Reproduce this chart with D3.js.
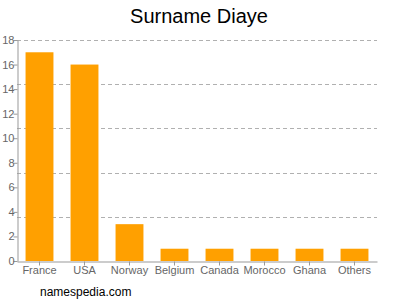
<!DOCTYPE html>
<html>
<head>
<meta charset="utf-8">
<script src="https://cdn.jsdelivr.net/npm/d3@7"></script>
<style>
  body { margin: 0; background: #fff; }
  text { font-family: "Liberation Sans", Arial, sans-serif; }
</style>
</head>
<body>
<div id="chart"></div>
<script>
var countries = ["France", "USA", "Norway", "Belgium", "Canada", "Morocco", "Ghana", "Others"];
var counts = [17, 16, 3, 1, 1, 1, 1, 1];
var yTicks = [0, 2, 4, 6, 8, 10, 12, 14, 16, 18];
var gridValues = [3.6, 7.2, 10.8, 14.4, 18];

var data = countries.map(function (c, i) { return { name: c, value: counts[i] }; });

var width = 400, height = 300;
var plotLeft = 17, plotRight = 377, plotTop = 40, plotBottom = 261;

var svg = d3.select("#chart").append("svg")
  .attr("width", width)
  .attr("height", height);

var x = d3.scaleBand()
  .domain(countries)
  .range([plotLeft, plotRight])
  .paddingInner(0.38)
  .paddingOuter(0.19);

var y = d3.scaleLinear()
  .domain([0, 18])
  .range([plotBottom, plotTop]);

// dashed grid lines
svg.append("g")
  .selectAll("line")
  .data(gridValues)
  .enter().append("line")
  .attr("x1", plotLeft)
  .attr("x2", plotRight)
  .attr("y1", function (d) { return Math.round(y(d)) + 0.5; })
  .attr("y2", function (d) { return Math.round(y(d)) + 0.5; })
  .attr("stroke", "#b0b0b0")
  .attr("stroke-dasharray", "4,3");

// bars
svg.append("g")
  .selectAll("rect")
  .data(data)
  .enter().append("rect")
  .attr("x", function (d) { return x(d.name); })
  .attr("y", function (d) { return y(d.value); })
  .attr("width", x.bandwidth())
  .attr("height", function (d) { return plotBottom - y(d.value); })
  .attr("fill", "#ffa000");

// y axis
var yAxis = svg.append("g")
  .attr("transform", "translate(" + (plotLeft + 0.5) + ",0)")
  .call(d3.axisLeft(y).tickValues(yTicks).tickSize(4).tickSizeOuter(0));
yAxis.select(".domain").attr("stroke", "#999");
yAxis.selectAll(".tick line").attr("stroke", "#999");
yAxis.selectAll("text")
  .attr("fill", "#666")
  .attr("x", -3)
  .style("font-size", "11px");

// x axis
var xAxis = svg.append("g")
  .attr("transform", "translate(0," + (plotBottom + 0.5) + ")")
  .call(d3.axisBottom(x).tickSize(4).tickSizeOuter(0));
xAxis.select(".domain").attr("stroke", "#999");
xAxis.selectAll(".tick line").attr("stroke", "#999");
xAxis.selectAll("text")
  .attr("fill", "#666")
  .attr("y", 5)
  .style("font-size", "11px");

// title
svg.append("text")
  .attr("x", 199)
  .attr("y", 23)
  .attr("text-anchor", "middle")
  .style("font-size", "20px")
  .attr("fill", "#000")
  .text("Surname Diaye");

// footer
svg.append("text")
  .attr("x", 40)
  .attr("y", 296)
  .style("font-size", "12px")
  .attr("fill", "#000")
  .text("namespedia.com");
</script>
</body>
</html>
